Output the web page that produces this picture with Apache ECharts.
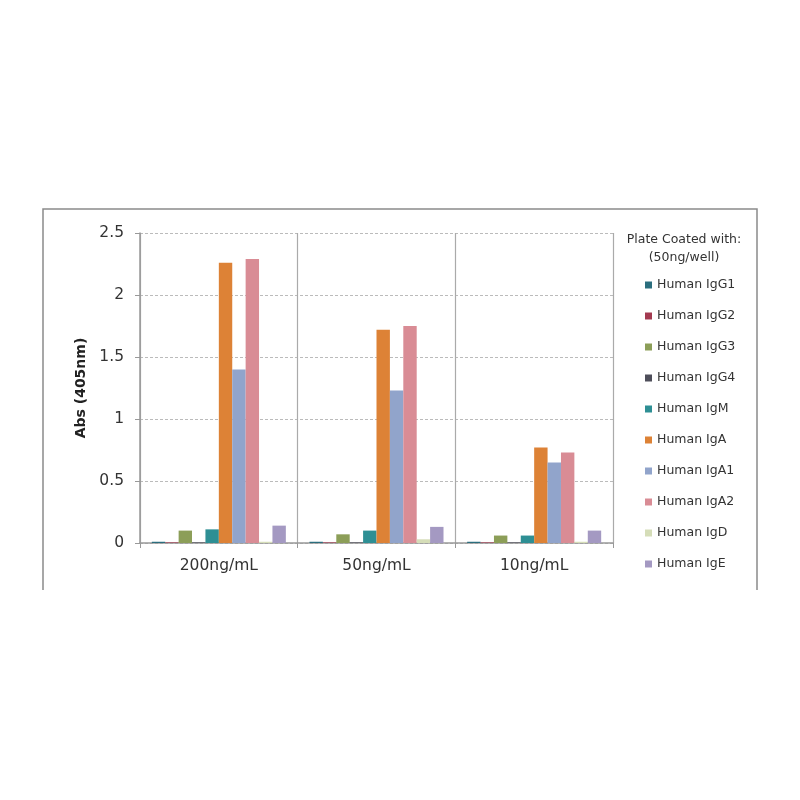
<!DOCTYPE html>
<html>
<head>
<meta charset="utf-8">
<script src="https://cdn.jsdelivr.net/npm/echarts@6/dist/echarts.min.js"></script>
<style>
  html, body { margin: 0; padding: 0; background: #fff; }
  #chart { width: 800px; height: 800px; }
</style>
</head>
<body>
<div id="chart"></div>
<script>
  // concentrations on the x axis
  const categories = ["200ng/mL", "50ng/mL", "10ng/mL"];
  const yTicks = [0, 0.5, 1, 1.5, 2, 2.5];

  // absorbance values per coated antibody (200, 50, 10 ng/mL)
  const igG1 = [0.01, 0.01, 0.01];
  const igG2 = [0.005, 0.005, 0.005];
  const igG3 = [0.10, 0.07, 0.06];
  const igG4 = [0.005, 0.005, 0.005];
  const igM = [0.11, 0.10, 0.06];
  const igA = [2.26, 1.72, 0.77];
  const igA1 = [1.40, 1.23, 0.65];
  const igA2 = [2.29, 1.75, 0.73];
  const igD = [0.01, 0.03, 0.01];
  const igE = [0.14, 0.13, 0.10];

  const seriesNames = ["Human IgG1", "Human IgG2", "Human IgG3", "Human IgG4", "Human IgM",
    "Human IgA", "Human IgA1", "Human IgA2", "Human IgD", "Human IgE"];
  const seriesData = [igG1, igG2, igG3, igG4, igM, igA, igA1, igA2, igD, igE];
  const colors = ["#2B6E7E", "#A33A50", "#8C9E58", "#4E4E5A", "#2E8F94",
    "#DD8236", "#91A4CB", "#D98C95", "#D5DDB8", "#A499C2"];

  const font = "'DejaVu Sans', sans-serif";
  const chart = echarts.init(document.getElementById("chart"));

  chart.setOption({
    animation: false,
    color: colors,
    textStyle: {fontFamily: font},
    grid: {left: 140, right: 187, top: 233, bottom: 257, containLabel: false},
    legend: {
      orient: "vertical",
      left: 640,
      top: 273,
      itemWidth: 7,
      itemHeight: 7,
      itemGap: 17,
      icon: "rect",
      textStyle: {fontFamily: font, fontSize: 12.5, color: "#333", lineHeight: 14},
      data: seriesNames
    },
    xAxis: {
      type: "category",
      data: categories,
      axisLine: {lineStyle: {color: "#999", width: 1.5}},
      axisTick: {show: true, length: 5, lineStyle: {color: "#999"}},
      splitLine: {show: true, interval: 0, lineStyle: {color: "#aaa", width: 1.2}},
      axisLabel: {fontFamily: font, fontSize: 15.5, color: "#333", margin: 15}
    },
    yAxis: {
      type: "value",
      min: 0,
      max: 2.5,
      interval: 0.5,
      name: "Abs (405nm)",
      nameLocation: "middle",
      nameGap: 46,
      nameTextStyle: {fontFamily: font, fontSize: 14, fontWeight: "bold", color: "#222"},
      axisLine: {show: true, lineStyle: {color: "#999", width: 1.5}},
      axisTick: {show: true, length: 5, lineStyle: {color: "#999"}},
      splitLine: {lineStyle: {color: "#bbb", type: [3, 2], width: 1.2}},
      axisLabel: {
        fontFamily: font, fontSize: 15.5, color: "#333", margin: 16,
        formatter: v => yTicks.includes(v) ? String(v) : ""
      }
    },
    series: seriesData.map((d, i) => ({
      name: seriesNames[i],
      type: "bar",
      data: d,
      barGap: "0%",
      barCategoryGap: "15%"
    })),
    graphic: [
      {
        type: "polyline",
        shape: {points: [[43, 590], [43, 209], [757, 209], [757, 590]]},
        style: {stroke: "#8a8a8a", lineWidth: 1.5, fill: null}
      },
      {
        type: "text",
        x: 684,
        y: 231,
        style: {
          text: "Plate Coated with:\n(50ng/well)",
          fontFamily: font,
          fontSize: 12.5,
          lineHeight: 18,
          fill: "#333",
          align: "center",
          verticalAlign: "top"
        }
      }
    ]
  });
</script>
</body>
</html>
